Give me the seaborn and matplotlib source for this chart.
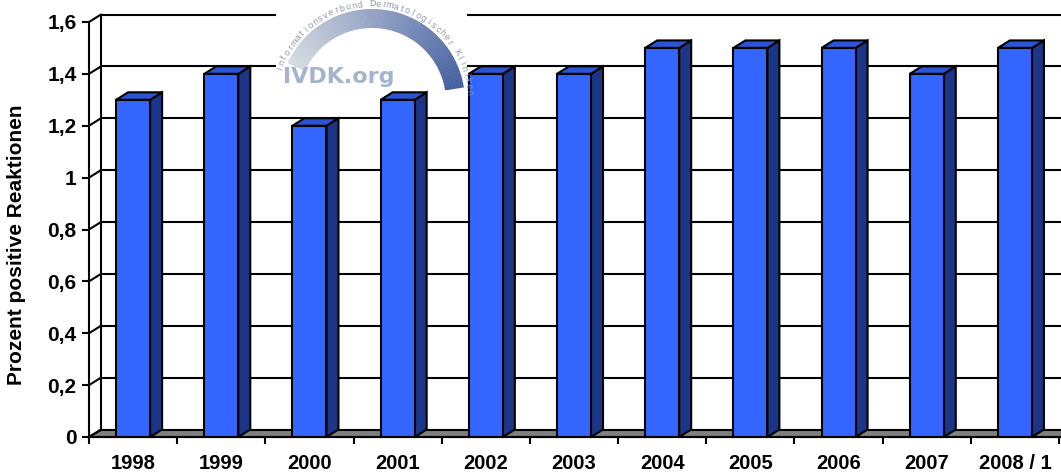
import numpy as np
import pandas as pd
import matplotlib
matplotlib.use("Agg")
import matplotlib.pyplot as plt
import seaborn as sns
from matplotlib.patches import Polygon, Wedge

# data
years = ["1998", "1999", "2000", "2001", "2002", "2003", "2004", "2005", "2006", "2007", "2008 / 1"]
percent = [1.3, 1.4, 1.2, 1.3, 1.4, 1.4, 1.5, 1.5, 1.5, 1.4, 1.5]
y_ticks = [0, 0.2, 0.4, 0.6, 0.8, 1.0, 1.2, 1.4, 1.6]
y_tick_labels = ["0", "0,2", "0,4", "0,6", "0,8", "1", "1,2", "1,4", "1,6"]
logo_caption = "Informationsverbund Dermatologischer Kliniken"

sns.set_theme(style="white")
plt.rcParams['font.family'] = ['Liberation Sans', 'DejaVu Sans']
plt.rcParams['text.color'] = 'black'
plt.rcParams['xtick.color'] = 'black'
plt.rcParams['ytick.color'] = 'black'

W, H = 1061, 474
fig = plt.figure(figsize=(W / 100, H / 100), dpi=100)
# axes placed in pixel units of the figure
ax_l, ax_r, ax_top, ax_bot = 89, 1059, 22, 437
ax = fig.add_axes([ax_l / W, 1 - ax_bot / H, (ax_r - ax_l) / W, (ax_bot - ax_top) / H])

df = pd.DataFrame({"year": years, "percent": percent})
sns.barplot(data=df, x="year", y="percent", color="#3366FF", saturation=1,
            width=0.386, edgecolor="black", linewidth=1.5, ax=ax, zorder=4)

ax.set_xlim(-0.5, len(years) - 0.5)
ax.set_ylim(0, 1.6)

# depth offset of the 3d look (12 px right, 7.5 px up)
px_x = (len(years)) / (ax_r - ax_l)
px_y = 1.6 / (ax_bot - ax_top)
ddx, ddy = 12 * px_x, 7.5 * px_y
x_left = -0.5
x_far = len(years) + 1

# back wall and left wall grid
for v in y_ticks[1:]:
    ax.plot([x_left + ddx, x_far], [v + ddy, v + ddy], color="black", lw=1.5, zorder=1, clip_on=False)
for v in y_ticks:
    ax.plot([x_left, x_left + ddx], [v, v + ddy], color="black", lw=1.5, zorder=1, clip_on=False)
ax.plot([x_left + ddx, x_left + ddx], [ddy, 1.6 + ddy], color="black", lw=1.5, zorder=1, clip_on=False)

# floor
floor = Polygon([[x_left, 0], [x_far, 0], [x_far, ddy], [x_left + ddx, ddy]], closed=True,
                facecolor="#808080", edgecolor="black", lw=1.5, zorder=2, clip_on=False)
ax.add_patch(floor)

# side and top faces of the bars
for p in list(ax.patches):
    if p is floor:
        continue
    x0, w, h = p.get_x(), p.get_width(), p.get_height()
    side = Polygon([[x0 + w, 0], [x0 + w + ddx, ddy], [x0 + w + ddx, h + ddy], [x0 + w, h]], closed=True,
                   facecolor="#1C3687", edgecolor="black", lw=1.5, zorder=3)
    top = Polygon([[x0, h], [x0 + ddx, h + ddy], [x0 + w + ddx, h + ddy], [x0 + w, h]], closed=True,
                  facecolor="#2B55D5", edgecolor="black", lw=1.5, zorder=3)
    ax.add_patch(side)
    ax.add_patch(top)

for s in ["top", "right"]:
    ax.spines[s].set_visible(False)
for s in ["left", "bottom"]:
    ax.spines[s].set_color("black")
    ax.spines[s].set_linewidth(1.5)
    ax.spines[s].set_zorder(5)

ax.set_yticks(y_ticks)
ax.set_yticklabels(y_tick_labels, fontsize=15, fontweight="bold")
ax.tick_params(axis="y", direction="out", length=5, width=1.5, color="black", pad=4, left=True)
ax.set_xticks(range(len(years)))
ax.set_xticklabels(years, fontsize=14.5, fontweight="bold")
ax.set_xticks(np.arange(-0.5, len(years)), minor=True)
ax.tick_params(axis="x", which="major", length=0, pad=12.5)
ax.tick_params(axis="x", which="minor", direction="out", length=5, width=1.5, color="black", bottom=True)
ax.set_xlabel("")
ax.set_ylabel("")
fig.text(17 / W, 1 - 245 / H, "Prozent positive Reaktionen", rotation=90, ha="center", va="center",
         fontsize=15, fontweight="bold")

# logo
lx0, lx1, ly1 = 276, 467, 90
lax = fig.add_axes([lx0 / W, 1 - ly1 / H, (lx1 - lx0) / W, ly1 / H], zorder=10)
lax.set_facecolor("white")
lax.set_xlim(0, lx1 - lx0)
lax.set_ylim(0, ly1)
lax.set_xticks([])
lax.set_yticks([])
for s in lax.spines.values():
    s.set_visible(False)
cx, cy, r_out, r_in = 372 - lx0, ly1 - 102, 93, 74
a_start, a_end = 155, 9
n = 60
edges = np.linspace(a_start, a_end, n + 1)
c0 = np.array([0.84, 0.86, 0.89])
c1 = np.array([0.27, 0.38, 0.63])
for i in range(n):
    t = i / (n - 1)
    col = c0 * (1 - t) + c1 * t
    lax.add_patch(Wedge((cx, cy), r_out, edges[i + 1], edges[i] + 0.3, width=r_out - r_in,
                        facecolor=col, edgecolor="none"))
angles = np.linspace(160, 6, len(logo_caption))
for ch, a in zip(logo_caption, angles):
    rad = np.deg2rad(a)
    lax.text(cx + (r_out + 5) * np.cos(rad), cy + (r_out + 5) * np.sin(rad), ch, rotation=a - 90,
             ha="center", va="center", fontsize=6.5, color="#8A94A8", rotation_mode="anchor")
lax.text(7, 7, "IVDK.org", fontsize=16, fontweight="bold", color="#A4B4CC",
         family=["DejaVu Sans"], ha="left", va="baseline")

fig.savefig("out.png", dpi=100)
